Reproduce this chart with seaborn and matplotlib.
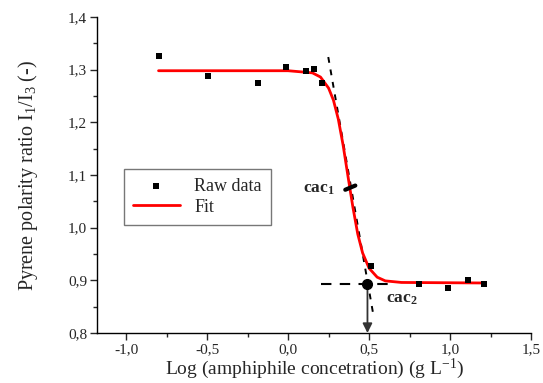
import numpy as np
import pandas as pd
import matplotlib
matplotlib.use("Agg")
import matplotlib.pyplot as plt
import seaborn as sns
from matplotlib.ticker import MultipleLocator, FuncFormatter

# raw data
log_conc = [-0.80, -0.495, -0.186, -0.012, 0.11, 0.16, 0.21, 0.51, 0.81, 0.985, 1.11, 1.21]
ratio = [1.326, 1.288, 1.275, 1.305, 1.298, 1.301, 1.275, 0.927, 0.893, 0.886, 0.901, 0.893]

# fitted curve
fit_x = [-0.80, 0.00, 0.15, 0.20, 0.25, 0.28, 0.31, 0.34, 0.37, 0.40, 0.43, 0.46, 0.50, 0.55, 0.60, 0.70, 1.21]
fit_y = [1.298, 1.298, 1.294, 1.286, 1.265, 1.242, 1.206, 1.156, 1.097, 1.039, 0.988, 0.952, 0.923, 0.906, 0.899, 0.896, 0.895]

# construction lines
tangent_x = [0.248, 0.526]
tangent_y = [1.324, 0.835]
plateau_x = [0.204, 0.66]
plateau_y = [0.893, 0.893]
cac1_x = [0.353, 0.415]
cac1_y = [1.072, 1.080]
cac2 = (0.49, 0.893)

sns.set_style("ticks")
plt.rcParams["font.family"] = ["Liberation Serif", "DejaVu Serif"]
plt.rcParams["mathtext.fontset"] = "custom"
plt.rcParams["mathtext.rm"] = "Liberation Serif"
plt.rcParams["mathtext.it"] = "Liberation Serif:italic"
plt.rcParams["mathtext.bf"] = "Liberation Serif:bold"

df = pd.DataFrame({"x": log_conc, "y": ratio})
fit = pd.DataFrame({"x": fit_x, "y": fit_y})

fig = plt.figure(figsize=(5.43, 3.83), dpi=100)
ax = fig.add_axes([0.1786, 0.1305, 0.7994, 0.8251])

ax.plot(tangent_x, tangent_y, color="black", lw=1.4, dashes=(3, 3.5), zorder=2)
ax.plot(plateau_x, plateau_y, color="black", lw=1.5, dashes=(5, 4), zorder=2)
sns.lineplot(data=fit, x="x", y="y", ax=ax, color="red", lw=2, label="Fit", zorder=3)
sns.scatterplot(data=df, x="x", y="y", ax=ax, marker="s", s=24, color="black",
                linewidth=0, label="Raw data", zorder=4)
ax.plot(cac1_x, cac1_y, color="black", lw=3, solid_capstyle="round", zorder=5)
ax.plot([cac2[0]], [cac2[1]], "o", color="black", ms=7, zorder=5)
ax.annotate("", xy=(cac2[0], 0.8), xytext=cac2,
            arrowprops=dict(arrowstyle="-|>", color="#333333", lw=1.3,
                            mutation_scale=14, shrinkA=0, shrinkB=0), zorder=4)

ax.text(0.093, 1.066, "cac$_\\mathbf{1}$", fontsize=12.5, fontweight="bold")
ax.text(0.607, 0.858, "cac$_\\mathbf{2}$", fontsize=12.5, fontweight="bold")

ax.set_xlim(-1.18, 1.5)
ax.set_ylim(0.8, 1.4)
ax.xaxis.set_major_locator(MultipleLocator(0.5))
ax.xaxis.set_minor_locator(MultipleLocator(0.25))
ax.yaxis.set_major_locator(MultipleLocator(0.1))
ax.yaxis.set_minor_locator(MultipleLocator(0.05))
fmt = FuncFormatter(lambda v, p: f"{v:.1f}".replace(".", ","))
ax.xaxis.set_major_formatter(fmt)
ax.yaxis.set_major_formatter(fmt)
ax.tick_params(which="major", direction="out", length=5, width=1, labelsize=11, pad=2)
ax.tick_params(which="minor", direction="out", length=3, width=1)
for s in ["top", "right"]:
    ax.spines[s].set_visible(False)
for s in ["left", "bottom"]:
    ax.spines[s].set_linewidth(1)
    ax.spines[s].set_color("black")

ax.set_xlabel("Log (amphiphile concetration) (g L$^{-1}$)", fontsize=14, labelpad=1)
ax.set_ylabel("Pyrene polarity ratio I$_1$/I$_3$ (-)", fontsize=14.5, labelpad=20)

handles, labels = ax.get_legend_handles_labels()
order = [labels.index("Raw data"), labels.index("Fit")]
leg = ax.legend([handles[i] for i in order], [labels[i] for i in order],
                loc="upper left", bbox_to_anchor=(0.062, 0.519), borderaxespad=0,
                fontsize=13, frameon=True, fancybox=False, edgecolor="#555555",
                borderpad=0.5, handlelength=2.6, labelspacing=0.2, markerscale=0.8)
leg.get_frame().set_linewidth(1)

fig.savefig("out.png", dpi=100)
